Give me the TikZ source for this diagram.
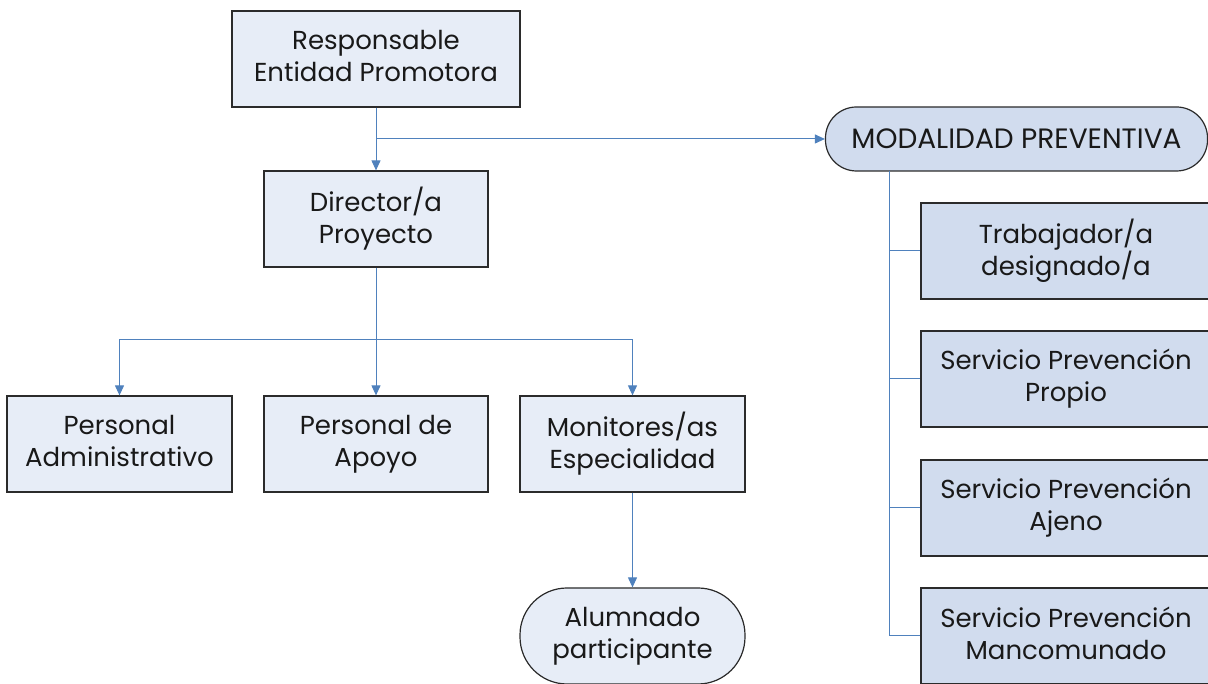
\documentclass[tikz,border=0pt]{standalone}
\usepackage{fontspec}
\setmainfont{Poppins}
\usetikzlibrary{arrows.meta,calc}
\definecolor{fillA}{HTML}{E7EDF7}
\definecolor{fillB}{HTML}{D1DCEE}
\definecolor{lineC}{HTML}{4F81BD}
\definecolor{edgeC}{HTML}{2B2B2B}
\newcommand{\topstr}{\rule{0pt}{26pt}}
\newcommand{\botstr}{\rule[-6pt]{0pt}{6pt}}
\tikzset{
  box/.style={draw=edgeC,line width=1.2pt,fill=fillA,minimum width=224pt,minimum height=96pt,inner sep=0pt,align=center,font=\fontsize{26}{32}\selectfont,text=black!90,execute at begin node=\topstr,execute at end node=\botstr},
  rbox/.style={box,fill=fillB,minimum width=290pt},
  conn/.style={draw=lineC,line width=1pt},
  arr/.style={conn,-{Triangle[length=10pt,width=9pt]}}
}
\begin{document}
\begin{tikzpicture}[x=1pt,y=1pt]
\useasboundingbox (0,0) rectangle (1208,684);
\node[box,minimum width=288pt] (resp) at (376,625) {Responsable\\Entidad Promotora};
\node[box] (dir) at (376,465) {Director/a\\Proyecto};
\node[box,minimum width=225pt] (pa) at (119.5,240) {Personal\\Administrativo};
\node[box] (pap) at (376,240) {Personal de\\Apoyo};
\node[box,minimum width=225pt] (mon) at (632.5,240) {Monitores/as\\Especialidad};
\node[box,minimum width=225pt,rounded corners=47pt] (alu) at (632.5,48) {Alumnado\\participante};
\node[box,fill=fillB,minimum width=382pt,minimum height=64pt,rounded corners=31pt,font=\fontsize{28}{32}\selectfont] (mod) at (1016.5,545) {MODALIDAD PREVENTIVA};
\node[rbox] (t1) at (1066,433) {Trabajador/a\\designado/a};
\node[rbox] (t2) at (1066,305) {Servicio Prevención\\Propio};
\node[rbox] (t3) at (1066,176) {Servicio Prevención\\Ajeno};
\node[rbox] (t4) at (1066,48) {Servicio Prevención\\Mancomunado};
% connectors
\draw[arr] (resp.south) -- (dir.north);
\draw[arr] (resp.south) |- (mod.west);
\coordinate (db) at ($(dir.south)+(0,-72)$);
\draw[arr] (dir.south) -- (pap.north);
\draw[arr] (db) -| (pa.north);
\draw[arr] (db) -| (mon.north);
\draw[arr] (mon.south) -- (alu.north);
\coordinate (mt) at (889,513);
\draw[conn] (mt) |- (t4.west);
\draw[conn] (mt) |- (t1.west);
\draw[conn] (mt) |- (t2.west);
\draw[conn] (mt) |- (t3.west);
\end{tikzpicture}
\end{document}
